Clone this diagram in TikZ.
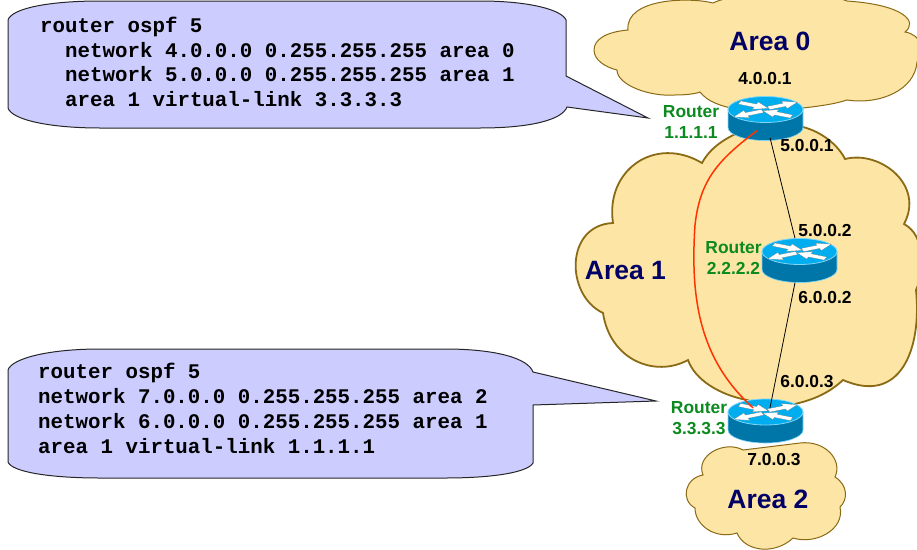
\documentclass[tikz,border=0pt]{standalone}
\usepackage{fontspec}
\setmainfont{Liberation Sans}
\newfontfamily\codefont{Liberation Mono}[BoldFont={Liberation Mono Bold}]
\usetikzlibrary{calc}
\definecolor{cloudfill}{HTML}{FDE5A6}
\definecolor{cloudline}{HTML}{8A6A14}
\definecolor{calloutfill}{HTML}{CCCCFF}
\definecolor{areablue}{HTML}{000066}
\definecolor{routergreen}{HTML}{0B8A1E}
\definecolor{routertop}{HTML}{00AEEF}
\definecolor{routerside}{HTML}{0076A8}
\definecolor{routeredge}{HTML}{7FD6F6}
\definecolor{linkred}{HTML}{FF3300}
\newcommand{\rtarrow}[3]{%
  \begin{scope}[yscale=.5]
    \fill[white,draw=black!60,line width=.15pt,shift={(#1,#2)},rotate=#3]
      (0,-3.4) -- (17,-3.4) -- (17,-8) -- (31,0) -- (17,8) -- (17,3.4) -- (0,3.4) -- cycle;
  \end{scope}}
\tikzset{
  x=1pt,y=-1pt,
  cloudthin/.style={fill=cloudfill,draw=cloudline,line width=1pt},
  cloudthick/.style={fill=cloudfill,draw=cloudline,line width=1.8pt},
  callout/.style={fill=calloutfill,draw=black!85,line width=1pt,line join=miter},
  codeline/.style={anchor=base west,inner sep=0pt,font=\codefont\bfseries\fontsize{20.8}{24}\selectfont},
  arealabel/.style={inner sep=0pt,text=areablue,font=\bfseries\fontsize{26.5}{30}\selectfont},
  iplabel/.style={inner sep=0pt,text=black,font=\bfseries\fontsize{17.4}{20}\selectfont},
  rtlabel/.style={inner sep=0pt,text=routergreen,align=center,font=\bfseries\fontsize{17.4}{21}\selectfont},
  link/.style={draw=black,line width=.8pt},
  vlink/.style={draw=linkred,line width=1.5pt},
  pics/router/.style={code={
    \node[minimum width=75pt,minimum height=44pt,inner sep=0pt] (-box) at (0,0) {};
    \fill[routerside,draw=routeredge,line width=.6pt]
      (-37.5,-9) -- (-37.5,9) .. controls (-37.5,16.2) and (-20.7,22) .. (0,22)
      .. controls (20.7,22) and (37.5,16.2) .. (37.5,9) -- (37.5,-9) -- cycle;
    \fill[routertop,draw=routeredge,line width=.8pt] (-37.5,-9)
      .. controls (-37.5,-16.2) and (-20.7,-22) .. (0,-22)
      .. controls (20.7,-22) and (37.5,-16.2) .. (37.5,-9)
      .. controls (37.5,-1.8) and (20.7,4) .. (0,4)
      .. controls (-20.7,4) and (-37.5,-1.8) .. (-37.5,-9) -- cycle;
    \begin{scope}[shift={(0,-9)}]
      \rtarrow{-26}{-14}{-22}
      \rtarrow{3}{-3}{22}
      \rtarrow{-3}{3}{202}
      \rtarrow{26}{14}{158}
    \end{scope}
  }}
}
\begin{document}
\begin{tikzpicture}
\useasboundingbox (0,0) rectangle (917,549);
\clip (0,0) rectangle (917,549);
% clouds
\path[cloudthin]
  (713,3) .. controls (690,-3) and (625,-2) .. (628,30)
  .. controls (605,32) and (594,40) .. (594,50)
  .. controls (594,60) and (605,67) .. (617,70)
  .. controls (617,85) and (650,97) .. (675,95)
  .. controls (685,95) and (695,94) .. (700,92)
  .. controls (708,102) and (720,106) .. (740,110)
  -- (790,110) -- (803,108)
  .. controls (820,106) and (835,104) .. (847,100)
  .. controls (880,105) and (915,90) .. (917,62)
  .. controls (925,50) and (922,35) .. (905,32)
  .. controls (918,22) and (905,5) .. (847,1)
  .. controls (820,-10) and (740,-10) .. (713,3) -- cycle;
\path[cloudthick]
  (702,163) .. controls (710,148) and (725,137) .. (750,128)
  -- (785,125) -- (803,127)
  .. controls (822,132) and (838,145) .. (845,159)
  .. controls (880,150) and (925,185) .. (904,224)
  .. controls (925,235) and (925,270) .. (916,290)
  .. controls (922,350) and (900,405) .. (843,380)
  .. controls (830,392) and (815,400) .. (790,405)
  -- (760,405) -- (747,400)
  .. controls (720,395) and (695,380) .. (688,360)
  .. controls (655,378) and (610,360) .. (603,313)
  .. controls (565,295) and (565,225) .. (613,223)
  .. controls (605,170) and (655,135) .. (702,163) -- cycle;
\path[cloudthin]
  (703,475) .. controls (695,455) and (725,440) .. (743,450)
  -- (800,443)
  .. controls (825,440) and (843,460) .. (835,477)
  .. controls (848,485) and (848,500) .. (840,507)
  .. controls (845,530) and (815,545) .. (793,538)
  .. controls (775,555) and (745,552) .. (737,533)
  .. controls (715,540) and (695,525) .. (695,508)
  .. controls (680,500) and (685,478) .. (703,475) -- cycle;
% callouts
\path[callout] (8,20) .. controls (12,8) and (50,1) .. (100,1)
  -- (480,1) .. controls (530,1) and (562,10) .. (566,20)
  -- (566,76) -- (648,118) -- (567,107)
  .. controls (562,120) and (530,128) .. (480,128)
  -- (100,128) .. controls (50,128) and (12,120) .. (8,108) -- cycle;
\path[callout] (8,370) .. controls (12,358) and (50,349) .. (100,349)
  -- (445,349) .. controls (495,349) and (528,358) .. (533,372)
  -- (656,401) -- (533,405) -- (533,463)
  .. controls (528,472) and (495,478) .. (445,478)
  -- (100,478) .. controls (50,478) and (12,472) .. (8,462) -- cycle;
% code
\node[codeline] (c1a) at (40,32.5) {router ospf 5};
\node[codeline] (c1b) at (65,57) {network 4.0.0.0 0.255.255.255 area 0};
\node[codeline] (c1c) at (65,81.5) {network 5.0.0.0 0.255.255.255 area 1};
\node[codeline] (c1d) at (65,106) {area 1 virtual-link 3.3.3.3};
\node[codeline] (c2a) at (38,378.5) {router ospf 5};
\node[codeline] (c2b) at (38,403) {network 7.0.0.0 0.255.255.255 area 2};
\node[codeline] (c2c) at (38,428) {network 6.0.0.0 0.255.255.255 area 1};
\node[codeline] (c2d) at (38,453) {area 1 virtual-link 1.1.1.1};
% routers
\pic (r1) at (765.5,118.5) {router};
\pic (r2) at (799.5,260.5) {router};
\pic (r3) at (765.5,421) {router};
% links
\draw[link] ([xshift=4.5pt,yshift=3pt]r1-box.south) -- ([xshift=-4.5pt,yshift=0pt]r2-box.north);
\draw[link] ([xshift=-4.5pt,yshift=0pt]r2-box.south) -- ([xshift=4.5pt,yshift=-9pt]r3-box.north);
\draw[vlink] ([xshift=-8.5pt,yshift=10pt]r1-box.south) .. controls (718,160) and (700,180) .. (695,225)
  .. controls (690,300) and (700,360) .. ([xshift=-12.5pt,yshift=-9pt]r3-box.north);
% labels
\node[arealabel] (a0) at (770,41) {Area 0};
\node[arealabel] (a1) at (625.5,271) {Area 1};
\node[arealabel] (a2) at (768,499) {Area 2};
\node[iplabel] (ip1) at (765,78.5) {4.0.0.1};
\node[iplabel] (ip2) at (807,145.5) {5.0.0.1};
\node[iplabel] (ip3) at (825,230.5) {5.0.0.2};
\node[iplabel] (ip4) at (825,297.5) {6.0.0.2};
\node[iplabel] (ip5) at (807,381.5) {6.0.0.3};
\node[iplabel] (ip6) at (774,459.5) {7.0.0.3};
\node[rtlabel] (l1) at (691,122.5) {Router\\1.1.1.1};
\node[rtlabel] (l2) at (733.5,258) {Router\\2.2.2.2};
\node[rtlabel] (l3) at (699,418.5) {Router\\3.3.3.3};
\end{tikzpicture}
\end{document}
